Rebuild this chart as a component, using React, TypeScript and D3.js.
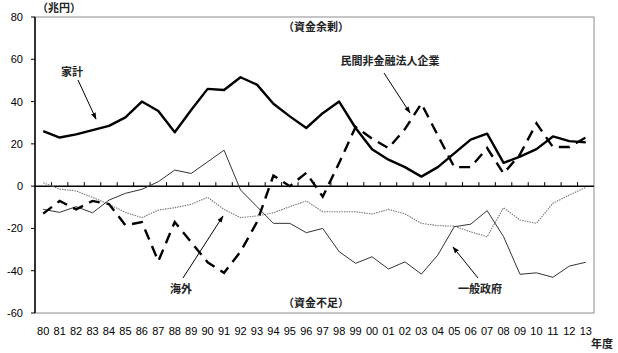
import React from 'react'
import * as d3 from 'd3'

// 年度 (fiscal years) 80..13
const years = ['80','81','82','83','84','85','86','87','88','89','90','91','92','93','94','95','96','97','98','99','00','01','02','03','04','05','06','07','08','09','10','11','12','13']

// 家計
const household = [26, 23, 24.5, 26.5, 28.5, 32.5, 40, 35.5, 25.5, 36, 46, 45.5, 51.5, 48, 39, 33, 27.5, 34.5, 40, 27.5, 17.5, 12.5, 9, 4.5, 9, 15.5, 22, 24.8, 11, 14, 17.5, 23.5, 21.3, 20.7]
// 民間非金融法人企業
const corporate = [-13, -7, -11, -7, -8.5, -18.5, -17, -35.5, -17, -26.5, -36, -41, -31, -17, 5, 0, 6.3, -5, 11, 28, 22.5, 18, 27, 39, 24, 9, 9, 18, 6, 15, 29.7, 18.5, 18.5, 23]
// 一般政府
const government = [-11, -12.4, -9.7, -12.6, -6.6, -3.4, -1.5, 2.1, 7.6, 6, 11.5, 17, -1.8, -9.7, -17.6, -17.6, -22, -20, -31, -36.5, -33.4, -39.2, -35.8, -41.6, -32.6, -19.2, -18, -11.6, -23.9, -41.7, -41, -43.1, -37.8, -36]
// 海外
const overseas = [1.6, -1.4, -2.3, -5.3, -8.6, -12.4, -14.9, -11.3, -10.2, -8.6, -5.3, -11, -14.9, -14.1, -12.6, -9.7, -7, -12.1, -12.1, -12.1, -13.2, -11, -13.1, -17.6, -18.7, -18.9, -21.6, -23.9, -10.2, -16, -17.6, -8.1, -4.2, -0.6]

const yTicks = [80, 60, 40, 20, 0, -20, -40, -60]

const W = 618
const H = 353
const left = 35
const right = 594
const top = 17
const bottom = 313

const jp = '"Noto Sans CJK JP", sans-serif'
const num = '"Liberation Sans", Arial, sans-serif'

const App = () => {
  const x = d3.scaleBand<string>().domain(years).range([left, right])
  const y = d3.scaleLinear().domain([-60, 80]).range([bottom, top])
  const cx = (i: number) => (x(years[i]) as number) + x.bandwidth() / 2

  const line = d3.line<number>()
    .x((_, i) => cx(i))
    .y((d) => y(d))

  const arrows = [
    // 家計
    { x1: 78, y1: 80, x2: 96, y2: 119 },
    // 民間非金融法人企業
    { x1: 384, y1: 73, x2: 410, y2: 113 },
    // 海外
    { x1: 183, y1: 278, x2: 223, y2: 216 },
    // 一般政府
    { x1: 478, y1: 278, x2: 453, y2: 247 },
  ]

  return (
    <svg width={W} height={H} style={{ position: 'absolute', left: 0, top: 0, background: '#fff' }}>
      <defs>
        <marker id="arr" viewBox="0 0 10 10" refX="9" refY="5" markerWidth="7" markerHeight="7" orient="auto">
          <path d="M0,1.5 L10,5 L0,8.5 z" fill="#000" />
        </marker>
      </defs>

      {/* frame */}
      <rect x={left} y={top} width={right - left} height={bottom - top} fill="none" stroke="#8c8c8c" strokeWidth={1} />
      <line x1={left} x2={left} y1={top} y2={bottom} stroke="#000" strokeWidth={1.5} />

      {/* y axis */}
      {yTicks.map((t) => (
        <g key={t}>
          <line x1={left - 4} x2={left} y1={y(t)} y2={y(t)} stroke="#000" strokeWidth={1} />
          <text x={23} y={y(t) + 4} textAnchor="end" fontSize={11} fontFamily={num} fill="#000">{t}</text>
        </g>
      ))}

      {/* zero line + category ticks */}
      <line x1={left} x2={right} y1={y(0)} y2={y(0)} stroke="#000" strokeWidth={1.5} />
      {years.slice(1).map((yr) => (
        <line key={yr} x1={x(yr)} x2={x(yr)} y1={y(0)} y2={y(0) - 4} stroke="#000" strokeWidth={1} />
      ))}

      {/* x labels */}
      {years.map((yr, i) => (
        <text key={yr} x={cx(i)} y={335} textAnchor="middle" fontSize={11} fontFamily={num} fill="#000">{yr}</text>
      ))}

      {/* series */}
      <path d={line(overseas) || ''} fill="none" stroke="#777" strokeWidth={1.1} strokeDasharray="1.5,1" />
      <path d={line(government) || ''} fill="none" stroke="#333" strokeWidth={1} />
      <path d={line(corporate) || ''} fill="none" stroke="#000" strokeWidth={2.4} strokeDasharray="11,7" />
      <path d={line(household) || ''} fill="none" stroke="#000" strokeWidth={2.4} strokeLinejoin="round" />

      {/* annotation arrows */}
      {arrows.map((a, i) => (
        <line key={i} x1={a.x1} y1={a.y1} x2={a.x2} y2={a.y2} stroke="#000" strokeWidth={1} markerEnd="url(#arr)" />
      ))}

      {/* texts */}
      <g fontFamily={jp} fontSize={11} fontWeight="bold" fill="#222">
        <text x={37} y={12}>（兆円）</text>
        <text x={316} y={31} textAnchor="middle">（資金余剰）</text>
        <text x={316} y={307} textAnchor="middle">（資金不足）</text>
        <text x={72} y={76} textAnchor="middle">家計</text>
        <text x={390} y={65} textAnchor="middle">民間非金融法人企業</text>
        <text x={181} y={293} textAnchor="middle">海外</text>
        <text x={480} y={293} textAnchor="middle">一般政府</text>
        <text x={602} y={348} textAnchor="middle">年度</text>
      </g>
    </svg>
  )
}

export default App
